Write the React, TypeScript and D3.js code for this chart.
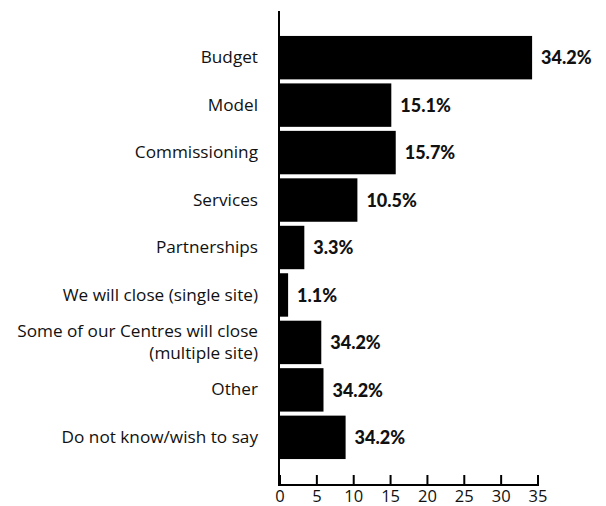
import React from "react";
import * as d3 from "d3";

const categories = [
  ["Budget"],
  ["Model"],
  ["Commissioning"],
  ["Services"],
  ["Partnerships"],
  ["We will close (single site)"],
  ["Some of our Centres will close", "(multiple site)"],
  ["Other"],
  ["Do not know/wish to say"],
];
const values = [34.2, 15.1, 15.7, 10.5, 3.3, 1.1, 5.6, 5.9, 8.9];
const valueLabels = ["34.2%", "15.1%", "15.7%", "10.5%", "3.3%", "1.1%", "34.2%", "34.2%", "34.2%"];
const ticks = [0, 5, 10, 15, 20, 25, 30, 35];

export default function App() {
  const W = 606, H = 506;
  const x0 = 280, x1 = 538;
  const x = d3.scaleLinear().domain([0, 35]).range([x0, x1]);
  const y = d3.scaleBand<number>().domain(d3.range(categories.length)).range([35, 460]).paddingInner(0.085).paddingOuter(0.02);
  const axisY = 485;
  const font = "'Open Sans', 'DejaVu Sans', sans-serif";
  const bold = "Lato, 'DejaVu Sans', sans-serif";
  return (
    <svg width={W} height={H} style={{ position: "absolute", left: 0, top: 0, background: "#fff" }}>
      {values.map((v, i) => {
        const yb = y(i)!;
        const h = y.bandwidth();
        return (
          <g key={i}>
            <rect x={x(0)} y={yb} width={x(v) - x(0)} height={h} fill="#000" />
            <text x={x(v) + 9} y={yb + h / 2 + 2} dominantBaseline="middle" fontFamily={bold} fontWeight={900} fontSize={18} fill="#111">
              {valueLabels[i]}
            </text>
            {categories[i].map((line, j) => (
              <text key={j} x={258} y={yb + h / 2 + 1 + (j - (categories[i].length - 1) / 2) * 22} textAnchor="end" dominantBaseline="middle" fontFamily={font} fontSize={17.2} fill="#111">
                {line}
              </text>
            ))}
          </g>
        );
      })}
      <line x1={x0 - 1} x2={x0 - 1} y1={11} y2={axisY + 1} stroke="#000" strokeWidth={2} />
      <line x1={x0 - 2} x2={x1 + 1} y1={axisY} y2={axisY} stroke="#000" strokeWidth={2} />
      {ticks.map((t) => (
        <g key={t}>
          <line x1={x(t)} x2={x(t)} y1={axisY - 10} y2={axisY} stroke="#000" strokeWidth={2} />
          <text x={x(t)} y={axisY + 13} textAnchor="middle" dominantBaseline="middle" fontFamily={font} fontSize={16.5} fill="#111">
            {t}
          </text>
        </g>
      ))}
    </svg>
  );
}
